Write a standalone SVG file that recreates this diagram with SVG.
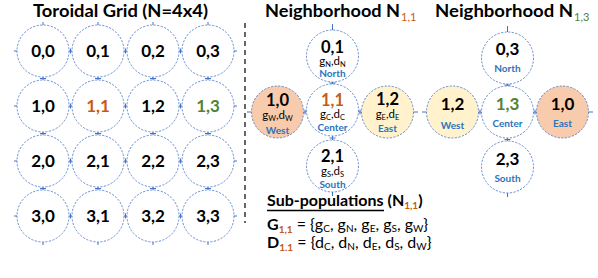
<svg xmlns="http://www.w3.org/2000/svg" width="598" height="278" viewBox="0 0 598 278">
<style>
text{font-family:Lato,"Liberation Sans",sans-serif;fill:#000}
.t{font-size:16.5px;font-weight:bold}
.n{font-size:17px;font-weight:bold;text-anchor:middle}
.m{font-size:16.5px;font-weight:bold;text-anchor:middle}
.g{font-size:11.5px;text-anchor:middle}
.s{font-size:7.5px}
.d{font-size:10px;font-weight:bold;fill:#2A74BC;text-anchor:middle}
.ci{fill:#fff;stroke:#4472C4;stroke-width:0.8;stroke-dasharray:2.2 1.4}
.pe{fill:#F8CBAD}
.ye{fill:#FFF2CC}
.or{fill:#C55A11}
.gr{fill:#548235}
.c line{stroke:#4472C4;stroke-width:1}
.sp{font-size:16px}
.sb{font-size:10px}
</style>
<rect width="598" height="278" fill="#fff"/>
<text class="t" x="33" y="16.5" textLength="175" lengthAdjust="spacingAndGlyphs">Toroidal Grid (N=4x4)</text>
<text class="t" x="265" y="16.5" textLength="135" lengthAdjust="spacingAndGlyphs">Neighborhood N</text>
<text x="401" y="21" font-size="11" class="or">1,1</text>
<text class="t" x="435" y="16.5" textLength="138" lengthAdjust="spacingAndGlyphs">Neighborhood N</text>
<text x="574" y="21" font-size="11" class="gr">1,3</text>
<line x1="245" y1="23" x2="245" y2="223" stroke="#000" stroke-width="1.2" stroke-dasharray="5 4"/>

<g class="c" id="connectors">
<line x1="14" y1="51" x2="17" y2="51"/><line x1="69" y1="51" x2="72" y2="51"/><line x1="124" y1="51" x2="127" y2="51"/><line x1="179" y1="51" x2="182" y2="51"/><line x1="234" y1="51" x2="237" y2="51"/>
<line x1="14" y1="106" x2="17" y2="106"/><line x1="69" y1="106" x2="72" y2="106"/><line x1="124" y1="106" x2="127" y2="106"/><line x1="179" y1="106" x2="182" y2="106"/><line x1="234" y1="106" x2="237" y2="106"/>
<line x1="14" y1="161" x2="17" y2="161"/><line x1="69" y1="161" x2="72" y2="161"/><line x1="124" y1="161" x2="127" y2="161"/><line x1="179" y1="161" x2="182" y2="161"/><line x1="234" y1="161" x2="237" y2="161"/>
<line x1="14" y1="216" x2="17" y2="216"/><line x1="69" y1="216" x2="72" y2="216"/><line x1="124" y1="216" x2="127" y2="216"/><line x1="179" y1="216" x2="182" y2="216"/><line x1="234" y1="216" x2="237" y2="216"/>
<line x1="70.5" y1="48.5" x2="70.5" y2="53.5"/><line x1="125.5" y1="48.5" x2="125.5" y2="53.5"/><line x1="180.5" y1="48.5" x2="180.5" y2="53.5"/>
<line x1="70.5" y1="103.5" x2="70.5" y2="108.5"/><line x1="125.5" y1="103.5" x2="125.5" y2="108.5"/><line x1="180.5" y1="103.5" x2="180.5" y2="108.5"/>
<line x1="70.5" y1="158.5" x2="70.5" y2="163.5"/><line x1="125.5" y1="158.5" x2="125.5" y2="163.5"/><line x1="180.5" y1="158.5" x2="180.5" y2="163.5"/>
<line x1="70.5" y1="213.5" x2="70.5" y2="218.5"/><line x1="125.5" y1="213.5" x2="125.5" y2="218.5"/><line x1="180.5" y1="213.5" x2="180.5" y2="218.5"/>
<line x1="43" y1="22" x2="43" y2="25"/><line x1="98" y1="22" x2="98" y2="25"/><line x1="153" y1="22" x2="153" y2="25"/><line x1="208" y1="22" x2="208" y2="25"/>
<line x1="43" y1="77" x2="43" y2="80"/><line x1="98" y1="77" x2="98" y2="80"/><line x1="153" y1="77" x2="153" y2="80"/><line x1="208" y1="77" x2="208" y2="80"/>
<line x1="43" y1="132" x2="43" y2="135"/><line x1="98" y1="132" x2="98" y2="135"/><line x1="153" y1="132" x2="153" y2="135"/><line x1="208" y1="132" x2="208" y2="135"/>
<line x1="43" y1="187" x2="43" y2="190"/><line x1="98" y1="187" x2="98" y2="190"/><line x1="153" y1="187" x2="153" y2="190"/><line x1="208" y1="187" x2="208" y2="190"/>
<line x1="43" y1="242" x2="43" y2="245"/><line x1="98" y1="242" x2="98" y2="245"/><line x1="153" y1="242" x2="153" y2="245"/><line x1="208" y1="242" x2="208" y2="245"/>
<line x1="40" y1="78.5" x2="46" y2="78.5"/><line x1="95" y1="78.5" x2="101" y2="78.5"/><line x1="150" y1="78.5" x2="156" y2="78.5"/><line x1="205" y1="78.5" x2="211" y2="78.5"/>
<line x1="40" y1="133.5" x2="46" y2="133.5"/><line x1="95" y1="133.5" x2="101" y2="133.5"/><line x1="150" y1="133.5" x2="156" y2="133.5"/><line x1="205" y1="133.5" x2="211" y2="133.5"/>
<line x1="40" y1="188.5" x2="46" y2="188.5"/><line x1="95" y1="188.5" x2="101" y2="188.5"/><line x1="150" y1="188.5" x2="156" y2="188.5"/><line x1="205" y1="188.5" x2="211" y2="188.5"/>
<line x1="332.5" y1="24" x2="332.5" y2="30"/>
<line x1="332.5" y1="82" x2="332.5" y2="84"/><line x1="329.5" y1="83" x2="335.5" y2="83"/>
<line x1="332.5" y1="136" x2="332.5" y2="140"/><line x1="329.5" y1="138" x2="335.5" y2="138"/>
<line x1="332.5" y1="192" x2="332.5" y2="196"/>
<line x1="247" y1="112" x2="251.5" y2="112"/>
<line x1="303.5" y1="112" x2="306.5" y2="112"/><line x1="305" y1="109.5" x2="305" y2="114.5"/>
<line x1="358.5" y1="112" x2="361.5" y2="112"/><line x1="360" y1="109.5" x2="360" y2="114.5"/>
<line x1="413.5" y1="112" x2="418" y2="112"/>
<line x1="507.5" y1="26" x2="507.5" y2="32"/>
<line x1="507.5" y1="84" x2="507.5" y2="86"/><line x1="504.5" y1="85" x2="510.5" y2="85"/>
<line x1="507.5" y1="138" x2="507.5" y2="141"/><line x1="504.5" y1="139.5" x2="510.5" y2="139.5"/>
<line x1="507.5" y1="193" x2="507.5" y2="197"/>
<line x1="422" y1="112" x2="426.5" y2="112"/>
<line x1="478.5" y1="112" x2="481.5" y2="112"/><line x1="480" y1="109.5" x2="480" y2="114.5"/>
<line x1="533.5" y1="112" x2="536.5" y2="112"/><line x1="535" y1="109.5" x2="535" y2="114.5"/>
<line x1="588.5" y1="112" x2="593" y2="112"/>
</g>

<g id="g00"><circle class="ci" cx="43" cy="51" r="26"/><text class="n" x="43" y="57">0,0</text></g>
<g id="g01"><circle class="ci" cx="98" cy="51" r="26"/><text class="n" x="98" y="57">0,1</text></g>
<g id="g02"><circle class="ci" cx="153" cy="51" r="26"/><text class="n" x="153" y="57">0,2</text></g>
<g id="g03"><circle class="ci" cx="208" cy="51" r="26"/><text class="n" x="208" y="57">0,3</text></g>
<g id="g10"><circle class="ci" cx="43" cy="106" r="26"/><text class="n" x="43" y="112">1,0</text></g>
<g id="g11"><circle class="ci" cx="98" cy="106" r="26"/><text class="n or" x="98" y="112">1,1</text></g>
<g id="g12"><circle class="ci" cx="153" cy="106" r="26"/><text class="n" x="153" y="112">1,2</text></g>
<g id="g13"><circle class="ci" cx="208" cy="106" r="26"/><text class="n gr" x="208" y="112">1,3</text></g>
<g id="g20"><circle class="ci" cx="43" cy="161" r="26"/><text class="n" x="43" y="167">2,0</text></g>
<g id="g21"><circle class="ci" cx="98" cy="161" r="26"/><text class="n" x="98" y="167">2,1</text></g>
<g id="g22"><circle class="ci" cx="153" cy="161" r="26"/><text class="n" x="153" y="167">2,2</text></g>
<g id="g23"><circle class="ci" cx="208" cy="161" r="26"/><text class="n" x="208" y="167">2,3</text></g>
<g id="g30"><circle class="ci" cx="43" cy="216" r="26"/><text class="n" x="43" y="222">3,0</text></g>
<g id="g31"><circle class="ci" cx="98" cy="216" r="26"/><text class="n" x="98" y="222">3,1</text></g>
<g id="g32"><circle class="ci" cx="153" cy="216" r="26"/><text class="n" x="153" y="222">3,2</text></g>
<g id="g33"><circle class="ci" cx="208" cy="216" r="26"/><text class="n" x="208" y="222">3,3</text></g>

<g id="n11-north"><circle class="ci" cx="332.5" cy="56" r="26"/><text class="m" x="332.5" y="53">0,1</text>
<text class="g" x="332.5" y="64.5">g<tspan class="s" dy="2">N</tspan><tspan dy="-2">,d</tspan><tspan class="s" dy="2">N</tspan></text><text class="d" x="332.5" y="77">North</text></g>
<g id="n11-west"><circle class="ci pe" cx="277.5" cy="112" r="26"/><text class="m" x="277.5" y="106">1,0</text>
<text class="g" x="277.5" y="119">g<tspan class="s" dy="2">W</tspan><tspan dy="-2">,d</tspan><tspan class="s" dy="2">W</tspan></text><text class="d" x="277.5" y="133.5">West</text></g>
<g id="n11-center"><circle class="ci" cx="332.5" cy="110" r="26"/><text class="m or" x="332.5" y="106">1,1</text>
<text class="g" x="332.5" y="118">g<tspan class="s" dy="2">C</tspan><tspan dy="-2">,d</tspan><tspan class="s" dy="2">C</tspan></text><text class="d" x="332.5" y="131">Center</text></g>
<g id="n11-east"><circle class="ci ye" cx="387.5" cy="112" r="26"/><text class="m" x="387.5" y="105">1,2</text>
<text class="g" x="387.5" y="118">g<tspan class="s" dy="2">E</tspan><tspan dy="-2">,d</tspan><tspan class="s" dy="2">E</tspan></text><text class="d" x="387.5" y="132">East</text></g>
<g id="n11-south"><circle class="ci" cx="332.5" cy="166" r="26"/><text class="m" x="332.5" y="162">2,1</text>
<text class="g" x="332.5" y="175">g<tspan class="s" dy="2">S</tspan><tspan dy="-2">,d</tspan><tspan class="s" dy="2">S</tspan></text><text class="d" x="332.5" y="188">South</text></g>

<g id="n13-north"><circle class="ci" cx="507.5" cy="58" r="26"/><text class="n" x="507.5" y="55">0,3</text><text class="d" x="507.5" y="72">North</text></g>
<g id="n13-west"><circle class="ci ye" cx="452.5" cy="112" r="26"/><text class="n" x="452.5" y="110">1,2</text><text class="d" x="452.5" y="128.5">West</text></g>
<g id="n13-center"><circle class="ci" cx="507.5" cy="112" r="26"/><text class="n gr" x="507.5" y="110">1,3</text><text class="d" x="507.5" y="127">Center</text></g>
<g id="n13-east"><circle class="ci pe" cx="562.5" cy="112" r="26"/><text class="n" x="562.5" y="110">1,0</text><text class="d" x="562.5" y="127">East</text></g>
<g id="n13-south"><circle class="ci" cx="507.5" cy="167" r="26"/><text class="n" x="507.5" y="165">2,3</text><text class="d" x="507.5" y="182">South</text></g>

<g id="subpops">
<text class="sp" x="267" y="206" font-weight="bold">Sub-populations (N<tspan class="or sb" dy="3">1,1</tspan><tspan dy="-3">)</tspan></text>
<line x1="267" y1="210.5" x2="384" y2="210.5" stroke="#000" stroke-width="1.3"/>
<text class="sp" x="267" y="230"><tspan font-weight="bold">G</tspan><tspan class="or sb" font-weight="bold" dy="3">1,1</tspan><tspan dy="-3"> = {g</tspan><tspan class="sb" dy="2">C</tspan><tspan dy="-2">, g</tspan><tspan class="sb" dy="2">N</tspan><tspan dy="-2">, g</tspan><tspan class="sb" dy="2">E</tspan><tspan dy="-2">, g</tspan><tspan class="sb" dy="2">S</tspan><tspan dy="-2">, g</tspan><tspan class="sb" dy="2">W</tspan><tspan dy="-2">}</tspan></text>
<text class="sp" x="267" y="248"><tspan font-weight="bold">D</tspan><tspan class="or sb" font-weight="bold" dy="3">1.1</tspan><tspan dy="-3"> = {d</tspan><tspan class="sb" dy="2">C</tspan><tspan dy="-2">, d</tspan><tspan class="sb" dy="2">N</tspan><tspan dy="-2">, d</tspan><tspan class="sb" dy="2">E</tspan><tspan dy="-2">, d</tspan><tspan class="sb" dy="2">S</tspan><tspan dy="-2">, d</tspan><tspan class="sb" dy="2">W</tspan><tspan dy="-2">}</tspan></text>
</g>
</svg>
